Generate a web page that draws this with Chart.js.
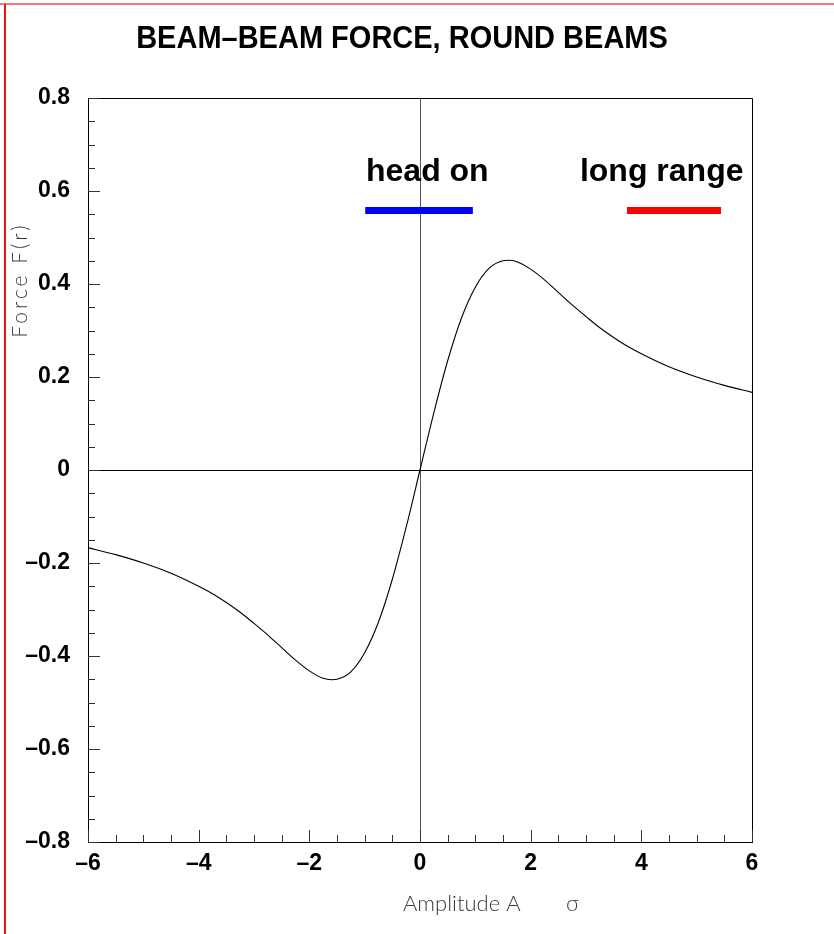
<!DOCTYPE html>
<html>
<head>
<meta charset="utf-8">
<script src="https://cdn.jsdelivr.net/npm/chart.js@4.4.1/dist/chart.umd.min.js"></script>
<style>
  html, body { margin: 0; padding: 0; background: #fff; }
  #wrap { position: relative; width: 834px; height: 934px; }
  canvas { position: absolute; left: 0; top: 0; }
</style>
</head>
<body>
<div id="wrap"><canvas id="c" width="834" height="934"></canvas></div>
<script>
// ---- data ----
const amplitude = [-6, -5.5, -5, -4.5, -4, -3.75, -3.5, -3.25, -3, -2.75, -2.5, -2.25, -2, -1.75, -1.6, -1.5, -1.25, -1, -0.75, -0.5, -0.25, 0,
                   0.25, 0.5, 0.75, 1, 1.25, 1.5, 1.6, 1.75, 2, 2.25, 2.5, 2.75, 3, 3.25, 3.5, 3.75, 4, 4.5, 5, 5.5, 6];
const force = [-0.167, -0.182, -0.200, -0.222, -0.250, -0.266, -0.285, -0.306, -0.330, -0.355, -0.382, -0.409, -0.432, -0.448, -0.451, -0.450, -0.434, -0.393, -0.327, -0.235, -0.123, 0,
               0.123, 0.235, 0.327, 0.393, 0.434, 0.450, 0.451, 0.448, 0.432, 0.409, 0.382, 0.355, 0.330, 0.306, 0.285, 0.266, 0.250, 0.222, 0.200, 0.182, 0.167];
const headOnBarX = [-0.99, 0.955];
const headOnBarY = [0.558, 0.558];
const longRangeBarX = [3.74, 5.44];
const longRangeBarY = [0.558, 0.558];
const annotationLabels = ['head on', 'long range'];
const annotationX = [-0.976, 2.89];
const annotationY = [0.622, 0.622];
const xMajorTicks = [-6, -4, -2, 0, 2, 4, 6];
const yMajorTicks = [-0.8, -0.6, -0.4, -0.2, 0, 0.2, 0.4, 0.6, 0.8];
const chartTitle = 'BEAM\u2013BEAM FORCE, ROUND BEAMS';
const xTitle = 'Amplitude A';
const xTitleUnit = '\u03c3';
const yTitle = 'Force F(r)';

const toPts = (xs, ys) => xs.map((x, i) => ({x: x, y: ys[i]}));
const fmt = v => {
  const r = Math.round(v * 10) / 10;
  if (Math.abs(r) < 1e-9) return '0';
  const s = Number.isInteger(r) ? String(Math.abs(r)) : Math.abs(r).toFixed(1);
  return (r < 0 ? '\u2013' : '') + s;
};

const decor = {
  id: 'decor',
  afterDatasetsDraw(chart) {
    const ctx = chart.ctx, a = chart.chartArea;
    const xs = chart.scales.x, ys = chart.scales.y;
    ctx.save();
    // page border lines
    ctx.strokeStyle = '#f07a7a'; ctx.lineWidth = 2;
    ctx.beginPath(); ctx.moveTo(0, 4); ctx.lineTo(834, 4); ctx.stroke();
    ctx.strokeStyle = '#ee1111'; ctx.lineWidth = 2;
    ctx.beginPath(); ctx.moveTo(5, 4); ctx.lineTo(5, 934); ctx.stroke();
    // frame top & right
    ctx.strokeStyle = '#000'; ctx.lineWidth = 1;
    ctx.beginPath();
    ctx.moveTo(Math.round(a.left) + 0.5, Math.round(a.top) + 0.5);
    ctx.lineTo(Math.round(a.right) + 0.5, Math.round(a.top) + 0.5);
    ctx.lineTo(Math.round(a.right) + 0.5, Math.round(a.bottom) + 0.5);
    ctx.stroke();
    // y ticks (inside)
    ctx.strokeStyle = '#333';
    for (let i = 0; i <= 32; i++) {
      const v = -0.8 + i * 0.05;
      const major = (i % 4 === 0);
      const py = Math.round(ys.getPixelForValue(v)) + 0.5;
      const len = major ? 12 : 7;
      ctx.beginPath(); ctx.moveTo(a.left, py); ctx.lineTo(a.left + len, py); ctx.stroke();
    }
    // x ticks (inside, upward)
    for (let i = 0; i <= 24; i++) {
      const v = -6 + i * 0.5;
      const major = (i % 4 === 0);
      const px = Math.round(xs.getPixelForValue(v)) + 0.5;
      const len = major ? 12 : 7;
      ctx.beginPath(); ctx.moveTo(px, a.bottom); ctx.lineTo(px, a.bottom - len); ctx.stroke();
    }
    // title
    ctx.fillStyle = '#000';
    ctx.font = 'bold 29px "Liberation Sans", Arial, sans-serif';
    ctx.textAlign = 'center'; ctx.textBaseline = 'alphabetic';
    ctx.save();
    ctx.translate(402, 48);
    ctx.scale(1, 1.08);
    ctx.fillText(chartTitle, 0, 0);
    ctx.restore();
    // annotations
    ctx.font = 'bold 32px "Liberation Sans", Arial, sans-serif';
    ctx.textAlign = 'left';
    annotationLabels.forEach((t, i) => {
      ctx.fillText(t, xs.getPixelForValue(annotationX[i]), ys.getPixelForValue(annotationY[i]));
    });
    // axis titles
    ctx.fillStyle = '#3a3a3a';
    ctx.font = '300 22px Lato, "Open Sans", sans-serif';
    ctx.textAlign = 'left';
    ctx.fillText(xTitle, 403, 911);
    ctx.fillText(xTitleUnit, 566, 911);
    ctx.translate(27, 280);
    ctx.rotate(-Math.PI / 2);
    ctx.textAlign = 'center';
    ctx.letterSpacing = '3px';
    ctx.font = '300 21px Lato, "Open Sans", sans-serif';
    ctx.fillText(yTitle, 0, 0);
    ctx.restore();
  }
};

new Chart(document.getElementById('c'), {
  type: 'line',
  data: {
    datasets: [
      { data: toPts(amplitude, force), borderColor: '#000', borderWidth: 1.1, pointRadius: 0,
        cubicInterpolationMode: 'monotone', fill: false },
      { data: toPts(headOnBarX, headOnBarY), borderColor: '#0000ff', borderWidth: 7, pointRadius: 0, borderCapStyle: 'butt' },
      { data: toPts(longRangeBarX, longRangeBarY), borderColor: '#ff0000', borderWidth: 7, pointRadius: 0, borderCapStyle: 'butt' }
    ]
  },
  options: {
    responsive: false,
    animation: false,
    devicePixelRatio: 1,
    layout: { padding: { top: 98, right: 82, left: 0, bottom: 0 } },
    plugins: { legend: { display: false }, title: { display: false }, tooltip: { enabled: false } },
    scales: {
      x: {
        type: 'linear', min: -6, max: 6,
        afterFit: s => { s.height = 92; },
        afterBuildTicks: s => { s.ticks = xMajorTicks.map(v => ({value: v})); },
        ticks: { callback: v => fmt(v), color: '#000', padding: 8, maxRotation: 0, autoSkip: false,
                 font: { family: '"Liberation Sans", Arial, sans-serif', size: 23, weight: 'bold' } },
        grid: { drawTicks: false, lineWidth: 1,
                color: c => (c.tick && Math.abs(c.tick.value) < 1e-9) ? '#555' : 'rgba(0,0,0,0)' },
        border: { display: true, color: '#000', width: 1 }
      },
      y: {
        type: 'linear', min: -0.8, max: 0.8,
        afterFit: s => { s.width = 88; },
        afterBuildTicks: s => { s.ticks = yMajorTicks.map(v => ({value: v})); },
        ticks: { callback: v => fmt(v), color: '#000', padding: 18, autoSkip: false,
                 font: { family: '"Liberation Sans", Arial, sans-serif', size: 23, weight: 'bold' } },
        grid: { drawTicks: false, lineWidth: 1,
                color: c => (c.tick && Math.abs(c.tick.value) < 1e-9) ? '#000' : 'rgba(0,0,0,0)' },
        border: { display: true, color: '#000', width: 1 }
      }
    }
  },
  plugins: [decor]
});
</script>
</body>
</html>
